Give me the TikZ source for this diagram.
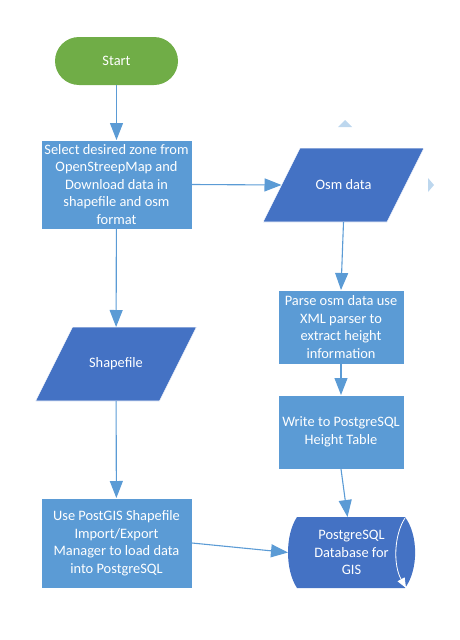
\documentclass[tikz,border=0pt]{standalone}
\usepackage{fontspec}
\setmainfont{Carlito}
\usetikzlibrary{arrows.meta,calc}
\definecolor{cgreen}{HTML}{70AD47}
\definecolor{cbox}{HTML}{5B9BD5}
\definecolor{cdark}{HTML}{4472C4}
\definecolor{cline}{HTML}{5B9BD5}
\definecolor{chandle}{HTML}{BDD7EE}
\tikzset{
  every node/.style={font=\fontsize{14.4}{17.5}\selectfont, text=white, align=center, inner sep=0pt, outer sep=0pt},
  procbox/.style={rectangle, fill=cbox, draw=white, line width=0.6pt},
  dataframe/.style={rectangle, minimum width=161pt, minimum height=74pt},
  datafill/.style={fill=cdark, draw=white, line width=0.6pt},
  conn/.style={draw=cline, line width=1.1pt, -{Triangle[width=13pt,length=17pt]}},
}
\newcommand{\parallelogramfill}[1]{%
  \path[datafill] ($(#1.north west)+(37,0)$) -- (#1.north east) -- ($(#1.south east)+(-37,0)$) -- (#1.south west) -- cycle;}
\begin{document}
\begin{tikzpicture}[x=1pt,y=-1pt]
\useasboundingbox (0,0) rectangle (460,640);
\node[fill=cgreen, rounded corners=24pt, minimum width=123pt, minimum height=48pt] (start) at (116.5,61) {Start};
\node[procbox, minimum width=151pt, minimum height=89pt] (sel) at (116.5,184.5) {Select desired zone from\\OpenStreepMap and\\Download data in\\shapefile and osm\\format};
% parallelograms
\node[dataframe] (osm) at (343.5,185) {};
\parallelogramfill{osm}
\node at (osm.center) {Osm data};
\coordinate (osmin) at ($(osm.west)+(18.5,0)$);
\node[dataframe] (shp) at (116,364) {};
\parallelogramfill{shp}
\node at (shp.center) {Shapefile};
\node[procbox, minimum width=126pt, minimum height=74pt] (parse) at (341,327) {Parse osm data use\\XML parser to\\extract height\\information};
\node[procbox, minimum width=126pt, minimum height=74pt] (write) at (341,432) {Write to PostgreSQL\\Height Table};
\node[procbox, minimum width=151pt, minimum height=90pt] (use) at (116.5,543) {Use PostGIS Shapefile\\Import/Export\\Manager to load data\\into PostgreSQL};
% database (direct access storage)
\node[minimum width=127pt, minimum height=71pt] (db) at (351.5,552.5) {};
\fill[cdark] (297,517) -- (405,517) .. controls (418.5,535) and (418.5,570) .. (405,588) -- (297,588) .. controls (285,570) and (285,535) .. (297,517) -- cycle;
\draw[white, line width=0.8pt, -{Triangle[width=8pt,length=10pt,fill=white]}] (405,518) .. controls (394,535) and (393,565) .. (406,588);
\node at (351.5,552.5) {PostgreSQL\\Database for\\GIS};
% connectors
\draw[conn] (start) -- (sel);
\draw[conn] (sel.east) -- (osmin);
\draw[conn] (sel) -- (shp);
\draw[conn] (shp) -- (use);
\draw[conn] (osm.south) -- (parse.north);
\draw[conn] (parse) -- (write);
\draw[conn] (write.south) -- ($(db.north)+(-4,0)$);
\draw[conn] (use.east) -- (db.west);
% selection handles
\fill[chandle] (338,127) -- (345,120) -- (352,127) -- cycle;
\fill[chandle] (428,178) -- (434,185) -- (428,192) -- cycle;
\end{tikzpicture}
\end{document}
